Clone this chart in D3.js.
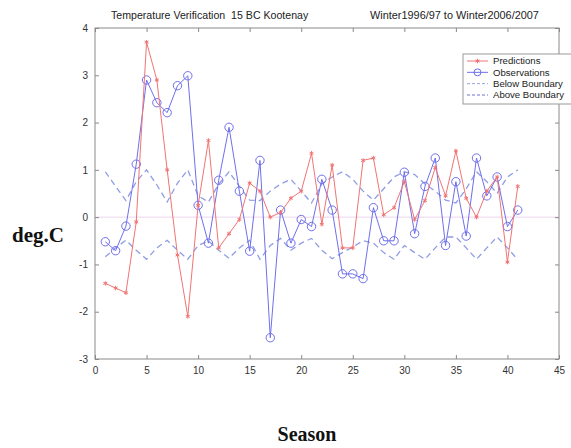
<!DOCTYPE html>
<html>
<head>
<meta charset="utf-8">
<script src="https://cdn.jsdelivr.net/npm/d3@7"></script>
<style>
  body { margin: 0; background: #fff; }
  svg { display: block; }
  .tick text { font-family: Arial, "Liberation Sans", sans-serif; font-size: 10px; fill: #333; }
</style>
</head>
<body>
<svg id="chart"></svg>
<script>
// season index 1..41
const seasons = d3.range(1, 42);

const predictions = [
  -1.4, -1.5, -1.6, -0.1, 3.7, 2.9, 1.0, -0.8, -2.1, 0.25,
  1.62, -0.65, -0.35, -0.05, 0.72, 0.55, 0.0, 0.1, 0.4, 0.55,
  1.35, -0.15, 1.1, -0.65, -0.65, 1.2, 1.25, 0.05, 0.2, 0.75,
  -0.05, 0.35, 1.05, 0.45, 1.4, 0.4, 0.0, 0.55, 0.85, -0.95,
  0.65
];

const observations = [
  -0.52, -0.71, -0.19, 1.12, 2.9, 2.42, 2.21, 2.78, 2.99, 0.25,
  -0.55, 0.78, 1.9, 0.55, -0.72, 1.2, -2.55, 0.15, -0.55, -0.05,
  -0.2, 0.8, 0.15, -1.2, -1.2, -1.3, 0.2, -0.5, -0.5, 0.95,
  -0.35, 0.65, 1.25, -0.6, 0.75, -0.4, 1.25, 0.45, 0.85, -0.2,
  0.15
];

const belowBoundary = [
  -0.84, -0.65, -0.49, -0.7, -0.89, -0.65, -0.49, -0.7, -0.89, -0.6,
  -0.5, -0.7, -0.87, -0.65, -0.49, -0.89, -0.6, -0.45, -0.7, -0.55,
  -0.45, -0.7, -0.88, -0.75, -0.63, -0.5, -0.55, -0.75, -0.89, -0.6,
  -0.75, -0.89, -0.65, -0.42, -0.42, -0.65, -0.89, -0.65, -0.42, -0.65,
  -0.9
];

const aboveBoundary = [
  0.96, 0.65, 0.35, 0.75, 1.0, 0.68, 0.32, 0.72, 1.0, 0.45,
  0.32, 0.7, 0.96, 0.65, 0.36, 0.35, 0.55, 0.7, 0.8, 0.55,
  0.3, 0.7, 0.85, 0.96, 0.8, 0.55, 0.36, 0.6, 0.85, 0.96,
  0.9, 0.7, 0.55, 0.36, 0.3, 0.6, 0.96, 0.75, 0.5, 0.85,
  1.0
];

const xTicks = [0, 5, 10, 15, 20, 25, 30, 35, 40, 45];
const yTicks = [-3, -2, -1, 0, 1, 2, 3, 4];

const titleLeft = "Temperature Verification  15 BC Kootenay";
const titleRight = "Winter1996/97 to Winter2006/2007";
const legendLabels = ["Predictions", "Observations", "Below Boundary", "Above Boundary"];

const width = 571, height = 448;
const plot = {left: 95, right: 559, top: 28, bottom: 359};

const svg = d3.select("#chart")
    .attr("width", width)
    .attr("height", height);

const x = d3.scaleLinear().domain([0, 45]).range([plot.left, plot.right]);
const y = d3.scaleLinear().domain([-3, 4]).range([plot.bottom, plot.top]);

const axisColor = "#8a8a8a";
const red = "#f07474";
const blue = "#6f6fec";
const dash = "#909ce4";

// zero line
svg.append("line")
    .attr("x1", x(0)).attr("x2", x(45))
    .attr("y1", y(0)).attr("y2", y(0))
    .attr("stroke", "#ecd6ec")
    .attr("stroke-width", 1);

// axes, matlab style ticks pointing inwards on all sides
const fmt = d => String(d);
function styleAxis(g) {
  g.select(".domain").remove();
  g.selectAll(".tick line").attr("stroke", axisColor);
}
svg.append("g")
    .attr("transform", `translate(0,${plot.bottom})`)
    .call(d3.axisBottom(x).tickValues(xTicks).tickFormat(fmt).tickSize(-4).tickPadding(8))
    .call(styleAxis);
svg.append("g")
    .attr("transform", `translate(0,${plot.top})`)
    .call(d3.axisTop(x).tickValues(xTicks).tickSize(-4).tickFormat(""))
    .call(styleAxis);
svg.append("g")
    .attr("transform", `translate(${plot.left},0)`)
    .call(d3.axisLeft(y).tickValues(yTicks).tickFormat(fmt).tickSize(-4).tickPadding(7))
    .call(styleAxis);
svg.append("g")
    .attr("transform", `translate(${plot.right},0)`)
    .call(d3.axisRight(y).tickValues(yTicks).tickSize(-4).tickFormat(""))
    .call(styleAxis);

svg.append("rect")
    .attr("x", plot.left).attr("y", plot.top)
    .attr("width", plot.right - plot.left)
    .attr("height", plot.bottom - plot.top)
    .attr("fill", "none")
    .attr("stroke", axisColor);

const line = d3.line()
    .x((d, i) => x(seasons[i]))
    .y(d => y(d));

// boundaries
svg.append("path")
    .datum(belowBoundary)
    .attr("d", line)
    .attr("fill", "none")
    .attr("stroke", dash)
    .attr("stroke-width", 1.3)
    .attr("stroke-dasharray", "6,4");
svg.append("path")
    .datum(aboveBoundary)
    .attr("d", line)
    .attr("fill", "none")
    .attr("stroke", dash)
    .attr("stroke-width", 1.3)
    .attr("stroke-dasharray", "6,4");

// observations
svg.append("path")
    .datum(observations)
    .attr("d", line)
    .attr("fill", "none")
    .attr("stroke", blue)
    .attr("stroke-width", 1);
svg.selectAll(".obs")
    .data(observations)
  .join("circle")
    .attr("class", "obs")
    .attr("cx", (d, i) => x(seasons[i]))
    .attr("cy", d => y(d))
    .attr("r", 4.2)
    .attr("fill", "none")
    .attr("stroke", blue)
    .attr("stroke-width", 1);

// predictions
svg.append("path")
    .datum(predictions)
    .attr("d", line)
    .attr("fill", "none")
    .attr("stroke", red)
    .attr("stroke-width", 1);
const star = d3.symbol().type(d3.symbolAsterisk).size(14);
svg.selectAll(".pred")
    .data(predictions)
  .join("path")
    .attr("class", "pred")
    .attr("d", star)
    .attr("transform", (d, i) => `translate(${x(seasons[i])},${y(d)})`)
    .attr("fill", "none")
    .attr("stroke", red)
    .attr("stroke-width", 1);

// titles
svg.append("text")
    .attr("x", 111).attr("y", 19)
    .attr("xml:space", "preserve")
    .style("white-space", "pre")
    .attr("font-family", "Arial, 'Liberation Sans', sans-serif")
    .attr("font-size", 10.6)
    .attr("fill", "#222")
    .text(titleLeft);
svg.append("text")
    .attr("x", 370).attr("y", 19)
    .attr("font-family", "Arial, 'Liberation Sans', sans-serif")
    .attr("font-size", 10.9)
    .attr("fill", "#222")
    .text(titleRight);

// axis titles
svg.append("text")
    .attr("x", 12).attr("y", 242)
    .attr("font-family", "'Liberation Serif', 'Times New Roman', serif")
    .attr("font-weight", "bold")
    .attr("font-size", 21)
    .attr("fill", "#111")
    .text("deg.C");
svg.append("text")
    .attr("x", 307).attr("y", 441)
    .attr("text-anchor", "middle")
    .attr("font-family", "'Liberation Serif', 'Times New Roman', serif")
    .attr("font-weight", "bold")
    .attr("font-size", 20)
    .attr("fill", "#111")
    .text("Season");

// legend (box runs off the right edge like the original)
const legend = svg.append("g").attr("transform", "translate(463,54)");
legend.append("rect")
    .attr("width", 130).attr("height", 50)
    .attr("fill", "#fff")
    .attr("stroke", "#999");
const rowY = d3.scalePoint().domain(legendLabels).range([7, 41]);
const legendStroke = [red, blue, "#9aa3dc", "#6a72d8"];
const legendDash = [null, null, "3,2", "3,2"];
legendLabels.forEach((lab, i) => {
  legend.append("line")
      .attr("x1", 4).attr("x2", 25)
      .attr("y1", rowY(lab)).attr("y2", rowY(lab))
      .attr("stroke", legendStroke[i])
      .attr("stroke-dasharray", legendDash[i]);
  if (i === 0) {
    legend.append("path")
        .attr("d", star)
        .attr("transform", `translate(14.5,${rowY(lab)})`)
        .attr("fill", "none").attr("stroke", red);
  }
  if (i === 1) {
    legend.append("circle")
        .attr("cx", 14.5).attr("cy", rowY(lab)).attr("r", 3.5)
        .attr("fill", "none").attr("stroke", blue);
  }
  legend.append("text")
      .attr("x", 30).attr("y", rowY(lab))
      .attr("dy", "0.35em")
      .attr("font-family", "Arial, 'Liberation Sans', sans-serif")
      .attr("font-size", 9.6)
      .attr("fill", "#222")
      .text(lab);
});
</script>
</body>
</html>
